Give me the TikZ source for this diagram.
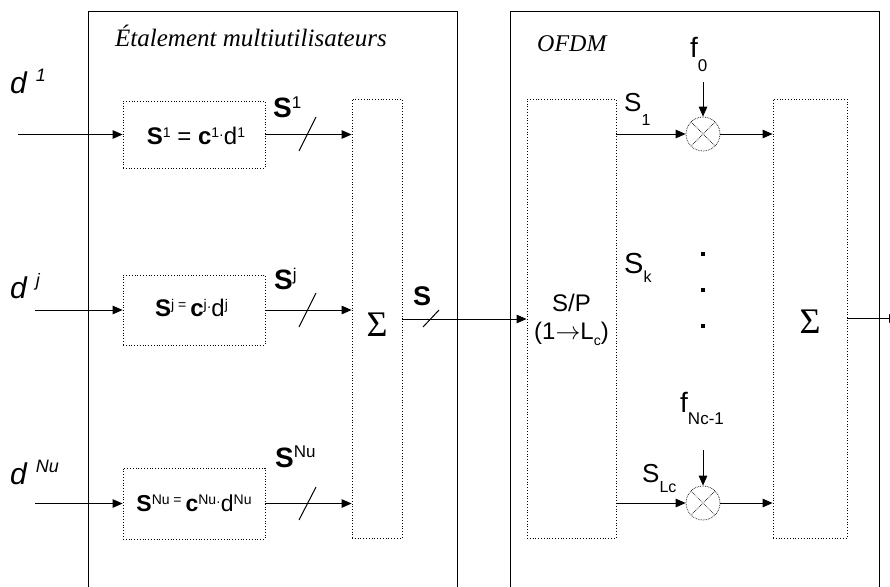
\documentclass[tikz,border=0pt]{standalone}
\usepackage{fontspec}
\setmainfont{Liberation Sans}
\newfontfamily\tnr{Liberation Serif}
\usetikzlibrary{arrows.meta}
\newcommand\hi[3]{\raisebox{#1}{\fontsize{#2}{#2}\selectfont #3}}
\newcommand\fs[1]{\fontsize{#1}{#1}\selectfont}
\begin{document}
\begin{tikzpicture}[x=1pt,y=-1pt,
  arr/.style={-{Triangle[length=10pt,width=8.5pt]}, line width=1pt},
  frame/.style={line width=1pt},
  dotbox/.style={draw, dotted, line width=0.8pt, inner sep=0pt},
  mixer/.style={circle, draw, densely dotted, line width=0.7pt, minimum size=34pt, inner sep=0pt,
    path picture={\draw[densely dotted, line width=0.7pt]
      (path picture bounding box.north west) -- (path picture bounding box.south east)
      (path picture bounding box.north east) -- (path picture bounding box.south west);}},
  lbl/.style={inner sep=0pt, anchor=base west},
  lblc/.style={inner sep=0pt, anchor=base},
]
\useasboundingbox (0,0) rectangle (890,586);

% frames
\draw[frame] (88,590) -- (88,12) -- (457,12) -- (457,590);
\draw[frame] (510,590) -- (510,12) -- (879,12) -- (879,590);
\node[lbl, font=\tnr\itshape\fs{25}] (t1) at (115,47) {Étalement multiutilisateurs};
\node[lbl, font=\tnr\itshape\fs{24}] (t2) at (537,52) {OFDM};

% spreading boxes
\node[dotbox, minimum width=142pt, minimum height=67pt] (b1) at (194,134.5) {};
\node[dotbox, minimum width=142pt, minimum height=70pt] (bj) at (194,310) {};
\node[dotbox, minimum width=142pt, minimum height=71pt] (bn) at (194,503.5) {};
\node[dotbox, minimum width=50pt, minimum height=439pt] (sg) at (377,318.5) {};
\node[dotbox, minimum width=89pt, minimum height=439pt] (sp) at (571.5,318.5) {};
\node[dotbox, minimum width=74pt, minimum height=439pt] (sg2) at (810,318.5) {};

% formulas in boxes
\node[lblc, font=\fs{24}] (bt1) at (196,144)
  {\textbf{S}\hi{7pt}{14}{1} = \textbf{c}\hi{7pt}{14}{1}\hi{5pt}{14}{·}d\hi{7pt}{14}{1}};
\node[lblc, font=\fs{24}] (btj) at (191.5,316)
  {\textbf{S}\hi{7pt}{14}{j}\,\hi{7pt}{14}{=}\,\textbf{c}\hi{7pt}{14}{j}\hi{5pt}{14}{·}d\hi{7pt}{14}{j}};
\node[lblc, font=\fs{23}] (btn) at (194,511)
  {\textbf{S}\hi{7pt}{14}{Nu}\,\hi{7pt}{14}{=}\,\textbf{c}\hi{7pt}{14}{Nu}\hi{5pt}{14}{·}d\hi{7pt}{14}{Nu}};

% inputs
\node[lbl, font=\itshape\fs{30}] (d1) at (10,93) {d\hspace{9pt}\hi{12pt}{18}{1}};
\node[lbl, font=\itshape\fs{30}] (dj) at (10,298) {d\hspace{9pt}\hi{12pt}{18}{j}};
\node[lbl, font=\itshape\fs{30}] (dn) at (10,484) {d\hspace{9pt}\hi{12pt}{18}{Nu}};
\coordinate (i1) at (18,134.5);
\coordinate (ij) at (35,310);
\coordinate (in) at (35,503.5);
\draw[arr] (i1) -- (b1.west);
\draw[arr] (ij) -- (bj.west);
\draw[arr] (in) -- (bn.west);

% outputs of spreading boxes
\draw[arr] (b1.east) -- (b1.east -| sg.west);
\draw[arr] (bj.east) -- (bj.east -| sg.west);
\draw[arr] (bn.east) -- (bn.east -| sg.west);
\draw[line width=1pt] (299,151) -- (316,117);
\draw[line width=1pt] (299,327) -- (316,293);
\draw[line width=1pt] (299,520) -- (316,487);
\node[lbl, font=\fs{28}] (s1) at (273,117) {\textbf{S}\hi{9pt}{17}{1}};
\node[lbl, font=\fs{28}] (sj) at (274,289) {\textbf{S}\hi{9pt}{17}{j}};
\node[lbl, font=\fs{28}] (sn) at (275,467) {\textbf{S}\hi{10pt}{17}{Nu}};

% sums
\node[font=\tnr\fs{36}, inner sep=0pt] (sgt) at (377,325) {Σ};
\node[font=\tnr\fs{36}, inner sep=0pt] (sgt2) at (810,322) {Σ};

% S to S/P
\draw[arr] (sg.east |- 0,319) -- (sp.west |- 0,319);
\draw[line width=1pt] (423,327) -- (439,310);
\node[lbl, font=\bfseries\fs{27}] (sl) at (413,305) {S};

% S/P text
\node[lblc, font=\fs{24}] (spt1) at (571.5,311) {S/P};
\node[lblc, font=\fs{24}] (spt2) at (571.5,339) {(1\(\rightarrow\)L\hi{-6pt}{14}{c})};

% mixers
\node[mixer] (m1) at (703,134) {};
\node[mixer] (m2) at (703,503) {};
\draw[arr] (m1.west -| sp.east) -- (m1.west);
\draw[arr] (m1.east) -- (m1.east -| sg2.west);
\draw[arr] (m2.west -| sp.east) -- (m2.west);
\draw[arr] (m2.east) -- (m2.east -| sg2.west);
\coordinate (f0a) at (703,82);
\coordinate (fna) at (703,450);
\draw[arr] (f0a) -- (m1.north);
\draw[arr] (fna) -- (m2.north);
\node[lbl, font=\fs{28}] (f0) at (690,57) {f\hi{-14pt}{17}{0}};
\node[lbl, font=\fs{28}] (fn) at (680,412) {f\hi{-12pt}{17}{Nc-1}};
\node[lbl, font=\fs{26}] (sa) at (624,111) {S\hi{-14pt}{16}{1}};
\node[lbl, font=\fs{29}] (sk) at (624,273) {S\hi{-9pt}{16}{k}};
\node[lbl, font=\fs{26}] (sb) at (642,482) {S\hi{-10pt}{16}{Lc}};

% dots
\foreach \yy [count=\i] in {254,290,326}
  \node[fill, inner sep=0pt, minimum size=3.2pt] (dot\i) at (703,\yy) {};

% output
\coordinate (out) at (899,318.5);
\draw[arr] (sg2.east) -- (out);
\end{tikzpicture}
\end{document}
